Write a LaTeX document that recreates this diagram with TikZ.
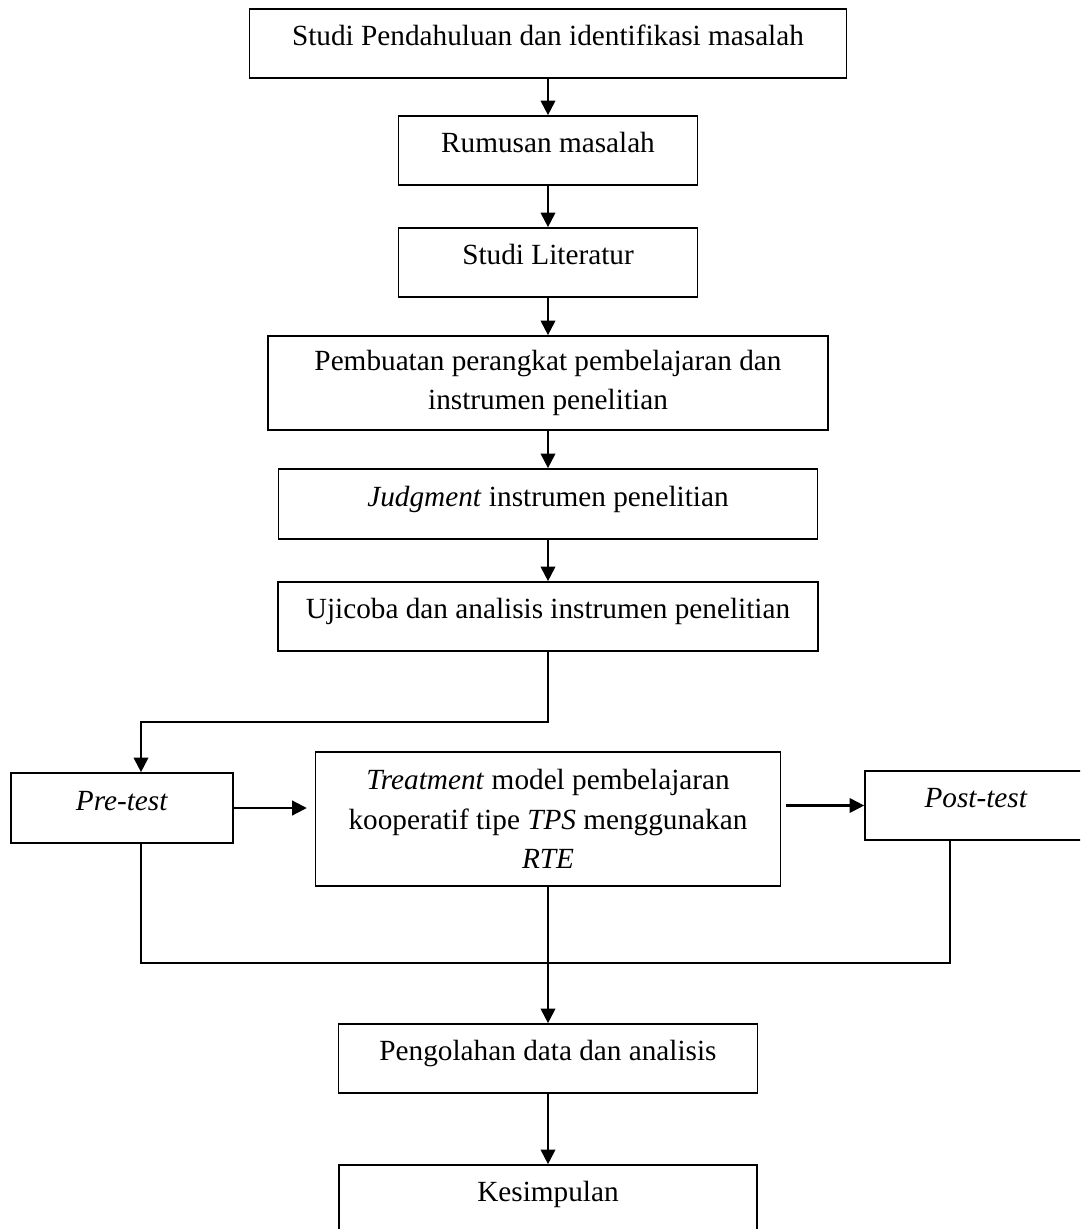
\documentclass[tikz,border=0pt]{standalone}
\usepackage{fontspec}
\setmainfont{Liberation Serif}
\usetikzlibrary{arrows.meta, calc}

\newcommand{\pxu}{0.4444pt}

\tikzset{
  box/.style = {draw, line width=0.75pt, inner sep=2pt, align=center,
                font=\fontsize{13}{17.5}\selectfont},
  onebox/.style = {box, text height=9.5pt, text depth=7.3pt},
  flow/.style = {line width=0.9pt, -{Triangle[length=6.5pt, width=6.5pt]}},
  bus/.style = {line width=0.75pt},
}

\begin{document}
\begin{tikzpicture}[x=0.4444pt, y=-0.4444pt]

	\path[use as bounding box, clip] (0,0) rectangle (1080,1229);

	% main column
	\node[onebox, minimum width=597*\pxu, minimum height=69*\pxu] (studi) at (548,43.5) {Studi Pendahuluan dan identifikasi masalah};
	\node[onebox, minimum width=299*\pxu, minimum height=69*\pxu] (rumusan) at (548,150.5) {Rumusan masalah};
	\node[onebox, minimum width=299*\pxu, minimum height=69*\pxu] (literatur) at (548,262.5) {Studi Literatur};
	\node[box, minimum width=560*\pxu, minimum height=94*\pxu] (perangkat) at (548,383) {Pembuatan perangkat pembelajaran dan\\ instrumen penelitian};
	\node[onebox, minimum width=539*\pxu, minimum height=70*\pxu] (judgment) at (548,504) {\textit{Judgment} instrumen penelitian};
	\node[onebox, minimum width=540*\pxu, minimum height=69*\pxu] (ujicoba) at (548,616.5) {Ujicoba dan analisis instrumen penelitian};

	% treatment row
	\node[onebox, minimum width=222*\pxu, minimum height=70*\pxu] (pre) at (122,808) {\textit{Pre-test}};
	\node[box, minimum width=465*\pxu, minimum height=134*\pxu] (treat) at (548,819) {\textit{Treatment} model pembelajaran\\ kooperatif tipe \textit{TPS} menggunakan\\ \textit{RTE}};
	\node[onebox, minimum width=222*\pxu, minimum height=69*\pxu] (post) at (976,805.5) {\textit{Post-test}};

	\node[onebox, minimum width=419*\pxu, minimum height=69*\pxu] (olah) at (548,1058.5) {Pengolahan data dan analisis};
	\node[onebox, minimum width=418*\pxu, minimum height=69*\pxu] (simpul) at (548,1199.5) {Kesimpulan};

	\coordinate (split) at (548,722);
	\coordinate (leftbus) at (141,722);
	\coordinate (joinL) at (141,963);
	\coordinate (joinR) at (950,963);

	\draw[flow] (studi) -- (rumusan);
	\draw[flow] (rumusan) -- (literatur);
	\draw[flow] (literatur) -- (perangkat);
	\draw[flow] (perangkat) -- (judgment);
	\draw[flow] (judgment) -- (ujicoba);
	\draw[flow] (ujicoba.south) -- (split) -- (leftbus) -- (leftbus |- pre.north);

	\draw[flow, shorten >=3.5pt] (pre.east) -- (pre.east -| treat.west);
	\draw[flow, shorten <=2pt] (treat.east |- post.west) -- (post.west);

	\draw[bus] (joinL |- pre.south) -- (joinL) -- (joinR) -- (joinR |- post.south);

	\draw[flow] (treat) -- (olah);
	\draw[flow] (olah) -- (simpul);

\end{tikzpicture}
\end{document}
